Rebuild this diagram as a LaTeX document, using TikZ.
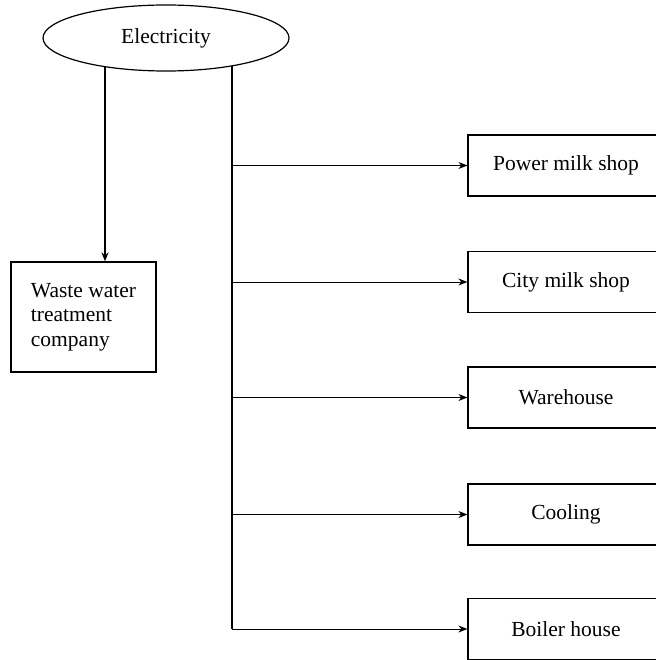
\documentclass[tikz,border=0pt]{standalone}
\usepackage{fontspec}
\setmainfont{Liberation Serif}
\usetikzlibrary{shapes.geometric,arrows.meta,backgrounds}
\begin{document}
\begin{tikzpicture}[x=1pt,y=-1pt,
  lbl/.style={font=\fontsize{21.5}{24.5}\selectfont},
  unitbox/.style={draw,line width=1.2pt,minimum width=196pt,minimum height=61pt,inner sep=0pt,fill=white,lbl},
  feed/.style={line width=1pt,-{Stealth[length=9pt,width=7pt]}},
  trunk/.style={line width=2pt}]
\useasboundingbox (0,0) rectangle (655,660);
\node[ellipse,draw,line width=1.2pt,fill=white,minimum width=246pt,minimum height=66pt,inner sep=0pt,lbl] (elec) at (166,38) {Electricity};
\node[draw,line width=1.2pt,fill=white,minimum width=145pt,minimum height=110pt,inner sep=0pt,align=left,lbl] (waste) at (83.5,317) {Waste water\\treatment\\company};
\node[unitbox] (pms) at (566,165.5) {Power milk shop};
\node[unitbox] (cms) at (566,282) {City milk shop};
\node[unitbox] (wh) at (566,397.5) {Warehouse};
\node[unitbox] (cool) at (566,514.5) {Cooling};
\node[unitbox] (boil) at (566,629) {Boiler house};
\coordinate (lf) at (105,38);
\coordinate (tr) at (232,38);
\begin{scope}[on background layer]
\draw[trunk,-{Stealth[length=9pt,width=7pt]}] (lf) -- (lf |- waste.north);
\draw[trunk] (tr) -- (tr |- boil.west);
\draw[feed] (tr |- pms.west) -- (pms.west);
\draw[feed] (tr |- cms.west) -- (cms.west);
\draw[feed] (tr |- wh.west) -- (wh.west);
\draw[feed] (tr |- cool.west) -- (cool.west);
\draw[feed] (tr |- boil.west) -- (boil.west);
\end{scope}
\end{tikzpicture}
\end{document}
